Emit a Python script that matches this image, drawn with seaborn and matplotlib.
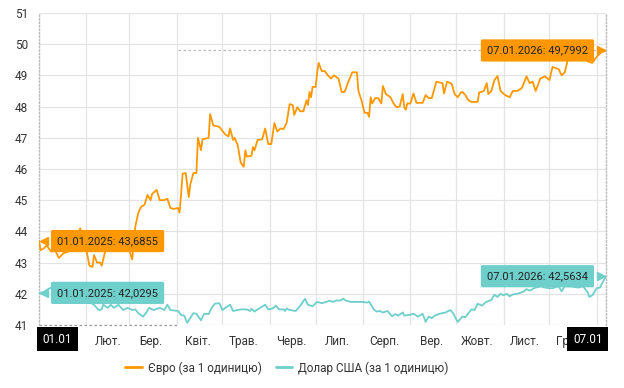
import pandas as pd
import matplotlib
matplotlib.use("Agg")
import matplotlib.pyplot as plt
from matplotlib.lines import Line2D
import seaborn as sns

# Exchange rates (UAH); days counted from 01.01.2025
start = pd.Timestamp("2025-01-01")
end = pd.Timestamp("2026-01-07")

eur_day = [0, 1, 3, 5, 8, 10, 13, 16, 19, 22, 24, 27, 29, 31, 33, 35, 36, 38, 40, 41,
           43, 44, 46, 50, 53, 56, 59, 61, 63, 65, 67, 69, 71, 73, 74, 77, 79, 82, 84, 86,
           88, 91, 92, 94, 96, 98, 99, 101, 103, 104, 106, 107, 111, 112, 114, 118, 122, 124, 125, 127,
           128, 130, 132, 134, 135, 136, 139, 140, 141, 143, 146, 148, 150, 152, 154, 156, 158, 160, 162, 164,
           166, 167, 169, 171, 173, 175, 176, 177, 178, 179, 181, 182, 183, 185, 187, 189, 191, 193, 196, 198,
           200, 202, 205, 208, 209, 211, 213, 215, 216, 217, 218, 220, 222, 224, 225, 227, 230, 232, 234, 236,
           238, 239, 240, 241, 243, 245, 247, 251, 253, 255, 257, 260, 264, 265, 267, 270, 272, 274, 276, 277,
           279, 281, 283, 287, 288, 291, 293, 294, 296, 298, 300, 302, 305, 308, 310, 313, 316, 318, 319, 321,
           323, 325, 328, 331, 334, 336, 340, 342, 344, 346, 349, 352, 355, 359, 362, 365, 368, 371]
eur_rate = [43.69, 43.40, 43.45, 43.55, 43.35, 43.45, 43.15, 43.30, 43.35, 43.55, 43.70, 44.10, 43.60, 43.40, 42.90, 42.86, 43.24, 43.00, 43.00, 42.90,
            43.30, 43.45, 43.50, 43.60, 43.45, 43.55, 43.40, 43.10, 44.15, 44.60, 44.80, 44.85, 45.17, 45.00, 45.20, 45.33, 45.00, 45.00, 45.05, 44.75,
            44.72, 44.75, 44.60, 45.85, 45.87, 45.10, 45.50, 45.87, 45.87, 47.00, 46.60, 46.95, 47.00, 47.76, 47.40, 47.35, 47.10, 47.05, 47.30, 46.93,
            47.00, 46.77, 46.20, 46.07, 46.60, 46.40, 46.42, 46.70, 46.60, 46.93, 46.95, 47.30, 46.80, 46.80, 47.47, 47.20, 47.30, 47.28, 47.47, 48.08,
            48.05, 47.73, 47.98, 47.85, 47.85, 48.20, 48.05, 48.47, 48.30, 48.63, 48.63, 49.08, 49.40, 49.14, 49.14, 49.00, 48.90, 49.00, 48.90, 48.47,
            48.47, 48.75, 49.10, 49.10, 48.50, 48.20, 47.80, 47.80, 47.67, 48.30, 48.10, 48.27, 48.27, 48.10, 48.66, 48.40, 48.30, 48.10, 47.98, 48.00,
            48.40, 47.98, 47.90, 48.10, 48.10, 48.42, 48.12, 48.12, 48.37, 48.27, 48.27, 48.80, 48.75, 48.42, 48.80, 48.73, 48.40, 48.30, 48.45, 48.47,
            48.37, 48.20, 48.15, 48.15, 48.45, 48.50, 48.75, 48.40, 48.50, 48.85, 48.98, 48.50, 48.37, 48.30, 48.50, 48.50, 48.60, 48.85, 48.97, 48.75,
            48.80, 48.50, 48.90, 48.97, 48.85, 49.27, 49.20, 49.00, 49.10, 49.50, 49.65, 49.75, 49.60, 49.45, 49.40, 49.60, 49.75, 49.7992]

usd_day = [0, 3, 6, 10, 14, 18, 22, 26, 30, 34, 36, 39, 41, 42, 45, 47, 49, 52, 55, 58,
           61, 63, 65, 68, 70, 72, 75, 79, 82, 84, 86, 91, 93, 95, 97, 101, 103, 106, 108, 111,
           113, 115, 118, 120, 123, 125, 127, 130, 132, 136, 138, 139, 141, 143, 148, 150, 153, 155, 157, 160,
           161, 162, 164, 168, 171, 174, 176, 179, 182, 185, 188, 190, 192, 195, 197, 199, 201, 204, 208, 211,
           215, 216, 219, 221, 223, 225, 228, 231, 233, 235, 238, 239, 243, 245, 248, 251, 253, 255, 257, 259,
           262, 266, 269, 271, 273, 274, 277, 279, 281, 283, 285, 287, 290, 292, 294, 296, 298, 300, 302, 304,
           306, 308, 310, 313, 317, 319, 321, 324, 328, 331, 334, 336, 340, 342, 344, 348, 350, 353, 356, 359,
           360, 362, 365, 367, 371]
usd_rate = [42.03, 42.05, 42.15, 42.25, 42.10, 42.00, 41.95, 41.85, 41.75, 41.70, 41.65, 41.48, 41.50, 41.65, 41.55, 41.65, 41.55, 41.65, 41.48, 41.55,
            41.48, 41.50, 41.38, 41.27, 41.38, 41.55, 41.48, 41.55, 41.48, 41.65, 41.48, 41.45, 41.32, 41.30, 41.07, 41.38, 41.36, 41.15, 41.36, 41.35,
            41.55, 41.68, 41.70, 41.48, 41.58, 41.65, 41.45, 41.48, 41.50, 41.50, 41.45, 41.52, 41.43, 41.50, 41.65, 41.50, 41.53, 41.62, 41.50, 41.50,
            41.45, 41.53, 41.48, 41.45, 41.62, 41.84, 41.65, 41.60, 41.74, 41.70, 41.74, 41.78, 41.74, 41.79, 41.78, 41.84, 41.78, 41.74, 41.74, 41.74,
            41.72, 41.75, 41.50, 41.43, 41.45, 41.40, 41.45, 41.28, 41.35, 41.30, 41.40, 41.30, 41.33, 41.36, 41.27, 41.36, 41.10, 41.27, 41.22, 41.30,
            41.36, 41.40, 41.48, 41.38, 41.18, 41.10, 41.27, 41.25, 41.38, 41.50, 41.48, 41.68, 41.62, 41.72, 41.77, 41.80, 41.97, 41.90, 42.00, 41.95,
            42.00, 41.92, 41.98, 42.00, 42.07, 42.15, 42.10, 42.18, 42.24, 42.20, 42.18, 42.18, 42.24, 42.08, 42.24, 42.24, 42.22, 42.20, 42.24, 42.05,
            41.90, 41.95, 42.18, 42.20, 42.5634]

series_names = ["Євро (за 1 одиницю)", "Долар США (за 1 одиницю)"]
month_labels = ["Лют.", "Бер.", "Квіт.", "Трав.", "Черв.", "Лип.", "Серп.",
                "Вер.", "Жовт.", "Лист.", "Груд."]
first_tip = ["01.01.2025: 43,6855", "01.01.2025: 42,0295"]
last_tip = ["07.01.2026: 49,7992", "07.01.2026: 42,5634"]

orange = "#FF9800"
teal = "#6ECFCB"

eur = pd.DataFrame({"date": start + pd.to_timedelta(eur_day, unit="D"),
                    "rate": eur_rate, "series": series_names[0]})
usd = pd.DataFrame({"date": start + pd.to_timedelta(usd_day, unit="D"),
                    "rate": usd_rate, "series": series_names[1]})
df = pd.concat([eur, usd], ignore_index=True)

sns.set_style("white")
plt.rcParams["font.family"] = ["Roboto", "DejaVu Sans"]

fig = plt.figure(figsize=(6.24, 3.88), dpi=100)
ax = fig.add_axes([39 / 624, 1 - 325 / 388, 567 / 624, 312 / 388])

sns.lineplot(data=df, x="date", y="rate", hue="series",
             palette=[orange, teal], linewidth=1.3, legend=False, ax=ax, zorder=3)

ax.set_xlim(start, end)
ax.set_ylim(41, 51)
ax.set_yticks(range(41, 52))
ax.set_xlabel("")
ax.set_ylabel("")

# grid: integer levels and month starts
ax.grid(axis="y", color="#e4e4e4", linewidth=0.9)
for m in pd.date_range("2025-02-01", "2026-01-01", freq="MS"):
    ax.axvline(m, color="#e4e4e4", linewidth=0.9, zorder=0)

mids = [pd.Timestamp(2025, m, 15) for m in range(2, 13)]
ax.set_xticks(mids)
ax.set_xticklabels(month_labels)
ax.tick_params(axis="x", length=0, pad=7, labelsize=8.5, colors="#333333")
ax.tick_params(axis="y", length=0, pad=8, labelsize=8.5, colors="#333333")

for side in ["top", "bottom"]:
    ax.spines[side].set_visible(False)
for side in ["left", "right"]:
    ax.spines[side].set_linestyle((0, (1, 1.5)))
    ax.spines[side].set_color("#bbbbbb")
    ax.spines[side].set_linewidth(1)

# crosshair leftovers
cross = start + pd.Timedelta(days=91)
ax.hlines(eur_rate[-1], cross, end, colors="#bbbbbb", linestyles=(0, (2, 2)), linewidth=0.9, zorder=1)
ax.hlines(41, start, cross, colors="#999999", linestyles=(0, (2, 2)), linewidth=0.9, zorder=1, clip_on=False)

# tooltips
for val, txt, col in [(eur_rate[0], first_tip[0], orange), (usd_rate[0], first_tip[1], teal)]:
    ax.annotate(txt, xy=(start, val), xytext=(13, 0), textcoords="offset points",
                ha="left", va="center", fontsize=8, color="#222222", zorder=10,
                bbox=dict(boxstyle="round,pad=0.55,rounding_size=0.15", fc=col, ec="none"))
    ax.plot([start + pd.Timedelta(days=3)], [val], marker="<", color=col, markersize=6,
            zorder=10, clip_on=False)
for val, txt, col in [(eur_rate[-1], last_tip[0], orange), (usd_rate[-1], last_tip[1], teal)]:
    ax.annotate(txt, xy=(end, val), xytext=(-13, 0), textcoords="offset points",
                ha="right", va="center", fontsize=8, color="#222222", zorder=10,
                bbox=dict(boxstyle="round,pad=0.55,rounding_size=0.15", fc=col, ec="none"))
    ax.plot([end - pd.Timedelta(days=3)], [val], marker=">", color=col, markersize=6,
            zorder=10, clip_on=False)

# date boxes on the x axis
xt = ax.get_xaxis_transform()
ax.text(start + pd.Timedelta(days=12), -0.045, "01.01", transform=xt, ha="center", va="center",
        fontsize=8.5, color="white", zorder=12, clip_on=False,
        bbox=dict(boxstyle="square,pad=0.5", fc="black", ec="none"))
ax.text(end - pd.Timedelta(days=12), -0.045, "07.01", transform=xt, ha="center", va="center",
        fontsize=8.5, color="white", zorder=12, clip_on=False,
        bbox=dict(boxstyle="square,pad=0.5", fc="black", ec="none"))

handles = [Line2D([], [], color=orange, linewidth=2),
           Line2D([], [], color=teal, linewidth=2)]
fig.legend(handles, series_names, loc="center", bbox_to_anchor=(0.46, 0.052), ncol=2,
           frameon=False, fontsize=8.5, handlelength=1.4, handletextpad=0.5,
           columnspacing=1.2, labelcolor="#333333")

fig.savefig("out.png", dpi=100)
